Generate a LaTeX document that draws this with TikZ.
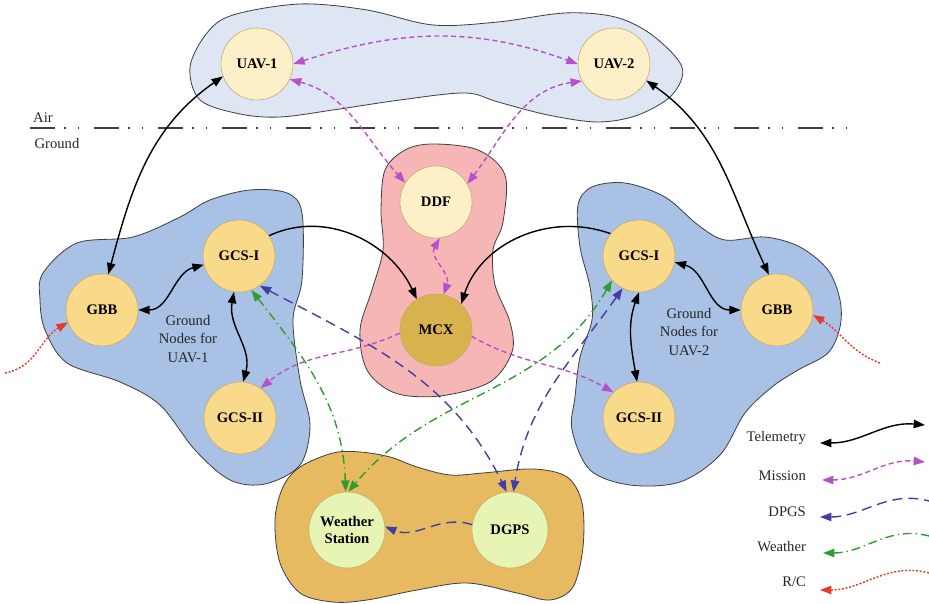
\documentclass[tikz,border=0pt]{standalone}
\usepackage{fontspec}
\setmainfont{Liberation Serif}
\usetikzlibrary{arrows.meta}
\definecolor{mSky}{HTML}{DFE6F3}
\definecolor{mBlue}{HTML}{A9C1E4}
\definecolor{mPink}{HTML}{F7B6B6}
\definecolor{mSand}{HTML}{E7BA62}
\definecolor{mCream}{HTML}{FDF0C8}
\definecolor{mYell}{HTML}{F9D98A}
\definecolor{mGold}{HTML}{D8B24C}
\definecolor{mLime}{HTML}{E6F4B4}
\definecolor{mRing}{HTML}{C4AA6C}
\definecolor{mMis}{HTML}{B94FCB}
\definecolor{mDgp}{HTML}{3F3FA5}
\definecolor{mWea}{HTML}{2E9C2E}
\definecolor{mRc}{HTML}{E33A2A}
\tikzset{
  blob/.style = {draw=black!75, line width=0.7pt},
  nd/.style   = {circle, draw=mRing, line width=0.5pt, minimum size=21.6mm,
                 inner sep=0pt, align=center,
                 font=\fontsize{12.5}{14}\selectfont\bfseries},
  ndu/.style  = {nd, fill=mCream},
  ndg/.style  = {nd, fill=mYell},
  ndh/.style  = {nd, fill=mGold},
  ndw/.style  = {nd, fill=mLime, minimum size=22.8mm},
  lbl/.style  = {font=\fontsize{12.5}{15.8}\selectfont, text=black!85, align=center},
  tel/.style  = {line width=1.2pt, draw=black},
  mis/.style  = {line width=1.2pt, draw=mMis, dash pattern=on 1.5mm off 1mm},
  dgp/.style  = {line width=1.2pt, draw=mDgp, dash pattern=on 3mm off 1.8mm},
  wea/.style  = {line width=1.2pt, draw=mWea, dash pattern=on 2.6mm off 1.2mm on 0.4mm off 1.2mm},
  rc/.style   = {line width=1.2pt, draw=mRc, dash pattern=on 0.6mm off 0.5mm},
  airline/.style = {line width=1.5pt, draw=black!75,
                 dash pattern=on 7.5mm off 2.7mm on 0.5mm off 3.6mm on 0.5mm off 4.4mm},
}

\begin{document}
\begin{tikzpicture}[x=0.3mm, y=0.3mm, >={Triangle[length=3.4mm,width=2.5mm]}]
  \useasboundingbox (0,0) rectangle (929,604);
  % groups
  \draw[blob, fill=mSky] plot[smooth cycle, tension=0.55] coordinates {
    (190,537) (207,571) (233,589) (300,600) (367,594) (433,579) (498,582)
    (565,591) (615,587) (652,569) (682,537) (672,509) (638,489) (598,482)
    (548,489) (498,502) (465,511) (400,504) (333,494) (280,487) (240,490) (200,504)};
  \draw[blob, fill=mPink] plot[smooth cycle, tension=0.55] coordinates {
    (433,460) (478,454) (505,429) (503,382) (493,354) (495,319) (510,282)
    (512,252) (490,222) (440,208) (395,211) (367,234) (360,274) (372,314)
    (383,354) (381,394) (385,434) (405,454)};
  \draw[blob, fill=mBlue] plot[smooth cycle, tension=0.55] coordinates {
    (43,331) (77,361) (133,367) (180,387) (210,404) (250,414) (287,411)
    (302,391) (302,324) (293,284) (300,224) (310,179) (300,139) (265,120)
    (230,124) (195,154) (160,199) (120,222) (67,241) (45,274) (40,304)};
  \draw[blob, fill=mBlue] plot[smooth cycle, tension=0.55] coordinates {
    (578,399) (592,417) (625,421) (665,407) (698,379) (725,364) (765,367)
    (800,357) (828,334) (840,304) (840,277) (828,251) (798,234) (772,217)
    (745,191) (720,149) (680,122) (630,119) (590,134) (572,174) (575,207)
    (580,247) (592,284) (590,317) (580,357)};
  \draw[blob, fill=mSand] plot[smooth cycle, tension=0.55] coordinates {
    (275,84) (283,117) (300,137) (333,151) (360,152) (390,147) (417,137)
    (450,129) (483,131) (533,135) (567,127) (582,101) (583,57) (573,17)
    (550,4) (517,11) (467,21) (417,14) (367,4) (333,2) (300,11) (280,41)};

  % air / ground
  \coordinate (airA) at (30,476);
  \coordinate (airB) at (855,476);
  \draw[airline] (airA) -- (airB);
  \node[lbl] (air) at (43,486) {Air};
  \node[lbl] (gnd) at (57,460) {Ground};

  % nodes
  \node[ndu] (uav1)   at (257,540) {UAV-1};
  \node[ndu] (uav2)   at (614,540) {UAV-2};
  \node[ndu] (ddf)    at (436,402) {DDF};
  \node[ndh] (mcx)    at (436,274) {MCX};
  \node[ndg] (gcsIL)  at (239,348) {GCS-I};
  \node[ndg] (gbbL)   at (102,294) {GBB};
  \node[ndg] (gcsIIL) at (240,186) {GCS-II};
  \node[ndg] (gcsIR)  at (639,348) {GCS-I};
  \node[ndg] (gbbR)   at (777,294) {GBB};
  \node[ndg] (gcsIIR) at (639,186) {GCS-II};
  \node[ndw] (ws)     at (347,74)  {Weather\\Station};
  \node[ndw] (dgps)   at (510,74)  {DGPS};
  \node[lbl] (grpL) at (188,265) {Ground\\Nodes for\\UAV-1};
  \node[lbl] (grpR) at (689,272) {Ground\\Nodes for\\UAV-2};

  % telemetry
  \draw[tel, <->] (gbbL.80) to[out=75, in=215] (uav1.200);
  \draw[tel, <->] (uav2.-27) to[out=-35, in=115] (gbbR.103);
  \draw[tel, ->] (gcsIL.34) to[out=25, in=115] (mcx.122);
  \draw[tel, ->] (gcsIR.142) to[out=160, in=72] (mcx.46);
  \draw[tel, <->] (gbbL.east) to[out=0, in=195] (gcsIL.194);
  \draw[tel, <->] (gcsIL.262) to[out=-100, in=75] (gcsIIL.85);
  \draw[tel, <->] (gcsIR.-10) to[out=-15, in=180] (gbbR.west);
  \draw[tel, <->] (gcsIR.south) to[out=-110, in=100] (gcsIIR.93);
  % mission
  \draw[mis, <->] (uav1.east) to[out=18, in=160] (uav2.west);
  \draw[mis, <->] (uav1.-25) to[out=-15, in=132] (ddf.148);
  \draw[mis, <->] (uav2.208) to[out=188, in=53] (ddf.30);
  \draw[mis, <->] (ddf.-84) to[out=-120, in=70] (mcx.78);
  \draw[mis, ->] (mcx.185) to[out=205, in=40] (gcsIIL.55);
  \draw[mis, ->] (mcx.-10) to[out=-30, in=150] (gcsIIR.135);
  % dgps
  \draw[dgp, <->] (gcsIL.-55) to[out=-28, in=116] (dgps.95);
  \draw[dgp, <->] (gcsIR.243) to[out=235, in=81] (dgps.85);
  \draw[dgp, ->] (dgps.172) to[out=162, in=-22] (ws.5);
  % weather
  \draw[wea, <->] (gcsIL.-70) to[out=-52, in=92] (ws.92);
  \draw[wea, <->] (gcsIR.222) to[out=240, in=50] (ws.88);
  % r/c
  \coordinate (rcL) at (5,231);
  \coordinate (rcR) at (880,241);
  \draw[rc, ->] (rcL) to[out=10, in=210] (gbbL.200);
  \draw[rc, ->] (rcR) to[out=160, in=-30] (gbbR.-8);

  % legend
  \foreach \t/\y [count=\i] in {Telemetry/166, Mission/128, DPGS/92, Weather/57, {R/C}/22}
    \node[lbl, anchor=east] (lg\i) at (810,\y) {\t};
  \coordinate (tA) at (820,161);  \coordinate (tB) at (925,179);
  \coordinate (mA) at (822,124);  \coordinate (mB) at (925,142);
  \coordinate (dA) at (820,87);   \coordinate (dB) at (929,103);
  \coordinate (wA) at (823,51);   \coordinate (wB) at (929,68);
  \coordinate (rA) at (820,14);   \coordinate (rB) at (929,31);
  \draw[tel, <->] (tA) to[out=0, in=175] (tB);
  \draw[mis, <->] (mA) to[out=0, in=175] (mB);
  \draw[dgp, <-] (dA) to[out=0, in=165] (dB);
  \draw[wea, <-] (wA) to[out=0, in=165] (wB);
  \draw[rc, <-] (rA) to[out=0, in=165] (rB);
\end{tikzpicture}
\end{document}
